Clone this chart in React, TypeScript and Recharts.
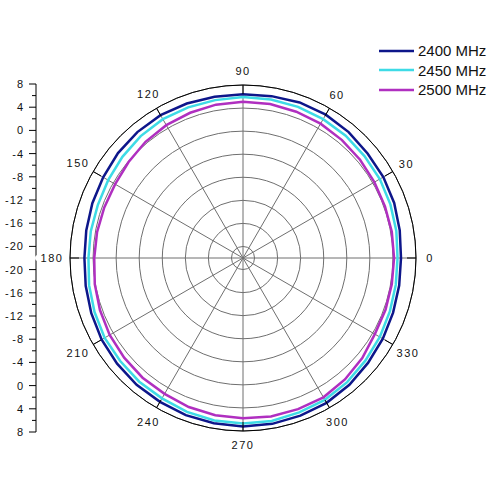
import React from 'react';
import {
  RadarChart,
  Radar,
  PolarGrid,
  PolarAngleAxis,
  PolarRadiusAxis,
  Legend,
  LineChart,
  Line,
  XAxis,
  YAxis,
} from 'recharts';

// azimuth in degrees, gain in dBi
const angles = [
  0, 10, 20, 30, 40, 50, 60, 70, 80, 90, 100, 110, 120, 130, 140, 150, 160, 170,
  180, 190, 200, 210, 220, 230, 240, 250, 260, 270, 280, 290, 300, 310, 320, 330, 340, 350,
];
const gain2400 = [
  5.4, 5.6, 5.9, 6.1, 6.2, 6.5, 6.7, 6.7, 6.5, 6.4, 6.4, 6.5, 6.6, 6.5, 6.3, 6.0, 5.8, 5.6,
  5.5, 5.7, 6.0, 6.3, 6.5, 6.7, 6.8, 7.0, 7.1, 7.2, 7.2, 7.1, 7.0, 6.7, 6.3, 6.0, 5.7, 5.5,
];
const gain2450 = [
  4.8, 5.0, 5.2, 5.4, 5.5, 5.7, 5.8, 5.9, 5.9, 5.9, 5.8, 5.8, 5.8, 5.6, 5.3, 5.0, 4.8, 4.8,
  4.8, 5.1, 5.4, 5.7, 5.8, 6.0, 6.1, 6.4, 6.6, 6.7, 6.7, 6.5, 6.4, 6.1, 5.7, 5.4, 5.1, 4.9,
];
const gain2500 = [
  4.2, 4.2, 4.2, 4.3, 4.5, 4.7, 4.9, 5.0, 5.1, 5.1, 5.0, 4.8, 4.6, 4.3, 3.9, 3.6, 3.6, 3.7,
  3.8, 4.1, 4.4, 4.7, 4.9, 5.1, 5.2, 5.5, 5.7, 5.8, 5.9, 5.9, 5.9, 5.5, 5.0, 4.4, 4.3, 4.2,
];

const series = [
  { key: 'g2400', name: '2400 MHz', color: '#0d168a' },
  { key: 'g2450', name: '2450 MHz', color: '#3edbe6' },
  { key: 'g2500', name: '2500 MHz', color: '#b02fc0' },
];

const ringTicks = [-20, -16, -12, -8, -4, 0, 4, 8];
const minorTicks = [-18, -14, -10, -6, -2, 2, 6];
const spokeAngles = [0, 30, 60, 90, 120, 150, 180, 210, 240, 270, 300, 330];
const radialMin = -22;
const radialMax = 8;

const data = angles.map((a, i) => ({
  angle: a,
  g2400: gain2400[i],
  g2450: gain2450[i],
  g2500: gain2500[i],
}));

// the side scale mirrors the radial axis above and below the centre
const sideTicks = [...ringTicks, ...minorTicks].flatMap((v) => [v - radialMin, radialMin - v]);

const CX = 243;
const CY = 258;
const R = 173;
const FONT = '"Liberation Sans", Arial, sans-serif';

const AngleTick = (props: any) => {
  const { payload } = props;
  const deg = Number(payload.value);
  const rad = (-deg * Math.PI) / 180;
  const cos = Math.cos(rad);
  const sin = Math.sin(rad);
  const label = String(payload.value);
  const lr = 187 + (label.length - 1) * 2 * Math.abs(cos);
  return (
    <g>
      <line
        x1={CX + (R - 9) * cos}
        y1={CY + (R - 9) * sin}
        x2={CX + R * cos}
        y2={CY + R * sin}
        stroke="#000"
        strokeWidth={1}
      />
      <text
        x={CX + lr * cos}
        y={CY + lr * sin}
        textAnchor="middle"
        dominantBaseline="central"
        fontSize={11}
        letterSpacing={1.5}
        fontFamily={FONT}
        fill="#111"
      >
        {label}
      </text>
    </g>
  );
};

const SideTick = (props: any) => {
  const { x, y, payload } = props;
  const v = Math.abs(payload.value) + radialMin;
  const major = ringTicks.includes(v);
  const ax = x + 8;
  return (
    <g>
      <line x1={ax - (major ? 7 : 4)} x2={ax} y1={y} y2={y} stroke="#000" />
      {major && (
        <text
          x={ax - 12}
          y={y}
          textAnchor="end"
          dominantBaseline="central"
          fontSize={11}
          letterSpacing={1}
          fontFamily={FONT}
          fill="#111"
        >
          {v}
        </text>
      )}
    </g>
  );
};

const LegendBox = () => (
  <div style={{ fontFamily: FONT, fontSize: 15, color: '#111' }}>
    {series.map((s) => (
      <div key={s.key} style={{ display: 'flex', alignItems: 'center', height: 19.5 }}>
        <svg width={40} height={10}>
          <line x1={3} x2={38} y1={5} y2={5} stroke={s.color} strokeWidth={2.5} />
        </svg>
        <span style={{ marginLeft: 2 }}>{s.name}</span>
      </div>
    ))}
  </div>
);

export default function App() {
  return (
    <div style={{ position: 'absolute', left: 0, top: 0, width: 496, height: 496, background: '#fff' }}>
      <div style={{ position: 'absolute', left: 0, top: 0 }}>
        <LineChart width={40} height={496} data={[{ x: 0, y: 0 }]} margin={{ top: 84, right: 0, bottom: 64, left: 0 }}>
          <XAxis hide dataKey="x" />
          <YAxis
            type="number"
            domain={[radialMin - radialMax, radialMax - radialMin]}
            ticks={sideTicks}
            interval={0}
            width={36}
            tickSize={6}
            tickMargin={2}
            tickLine={false}
            axisLine={{ stroke: '#000' }}
            tick={SideTick}
          />
          <Line dataKey="y" stroke="none" dot={false} isAnimationActive={false} />
        </LineChart>
      </div>
      <div style={{ position: 'absolute', left: 0, top: 0 }}>
        <RadarChart
          width={496}
          height={496}
          data={data}
          cx={CX}
          cy={CY}
          outerRadius={R}
          startAngle={0}
          endAngle={360}
          margin={{ top: 0, right: 0, bottom: 0, left: 0 }}
        >
          <PolarGrid gridType="circle" polarAngles={spokeAngles} stroke="#6f6f6f" strokeWidth={1} />
          <PolarRadiusAxis
            type="number"
            angle={90}
            domain={[radialMin, radialMax]}
            ticks={ringTicks}
            tick={false}
            axisLine={false}
          />
          <PolarAngleAxis
            dataKey="angle"
            type="number"
            domain={[0, 360]}
            ticks={spokeAngles}
            axisLineType="circle"
            axisLine={{ stroke: '#000', strokeWidth: 1 }}
            tickLine={false}
            tick={AngleTick}
          />
          {series.map((s) => (
            <Radar
              key={s.key}
              dataKey={s.key}
              name={s.name}
              stroke={s.color}
              strokeWidth={2.5}
              fill="none"
              fillOpacity={0}
              dot={false}
              isAnimationActive={false}
            />
          ))}
          <Legend
            content={LegendBox}
            wrapperStyle={{ position: 'absolute', left: 376, top: 41, width: 120 }}
          />
        </RadarChart>
      </div>
    </div>
  );
}
